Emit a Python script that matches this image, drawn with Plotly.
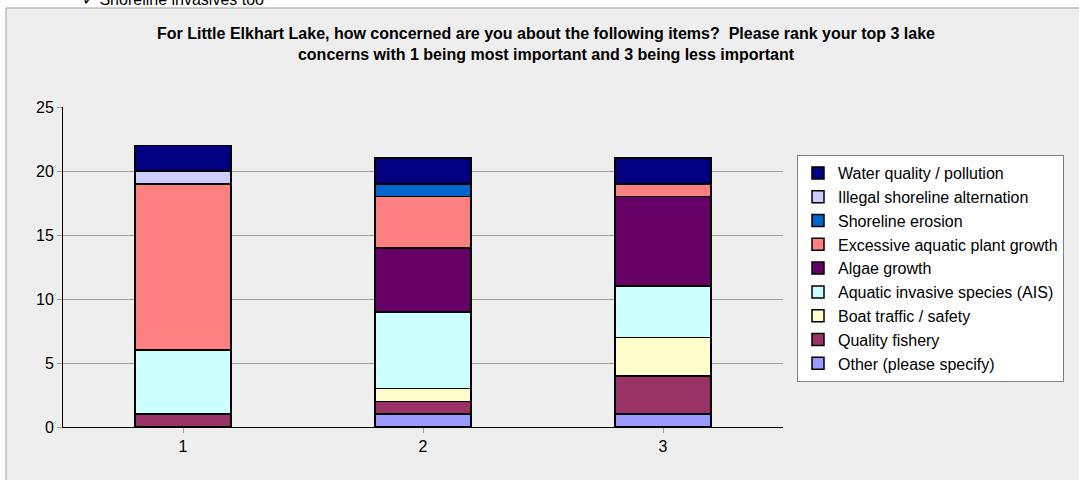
import plotly.graph_objects as go

categories = ["1", "2", "3"]
series_names = [
    "Other (please specify)",
    "Quality fishery",
    "Boat traffic / safety",
    "Aquatic invasive species (AIS)",
    "Algae growth",
    "Excessive aquatic plant growth",
    "Shoreline erosion",
    "Illegal shoreline alternation",
    "Water quality / pollution",
]
other = [0, 1, 1]
fishery = [1, 1, 3]
boat = [0, 1, 3]
ais = [5, 6, 4]
algae = [0, 5, 7]
excessive = [13, 4, 1]
erosion = [0, 1, 0]
illegal = [1, 0, 0]
water = [2, 2, 2]
series_values = [other, fishery, boat, ais, algae, excessive, erosion, illegal, water]
colors = ["#9999FF", "#993366", "#FFFFCC", "#CCFFFF", "#660066",
          "#FF8080", "#0066CC", "#CCCCFF", "#000080"]
y_ticks = [0, 5, 10, 15, 20, 25]

W, H = 1079, 480
L, R, T, B = 63, 296, 107, 53
pw, ph = W - L - R, H - T - B

fig = go.Figure()
for name, vals, col in zip(series_names, series_values, colors):
    fig.add_trace(go.Bar(
        x=categories, y=[v if v else None for v in vals], name=name,
        marker=dict(color=col, line=dict(color="black", width=1.5)),
        width=0.4,
    ))

def px(xp):
    return (xp - L) / pw

def py(yp):
    return (H - B - yp) / ph

fig.update_layout(
    width=W, height=H,
    barmode="stack",
    paper_bgcolor="white",
    plot_bgcolor="#EEEEEE",
    margin=dict(l=L, r=R, t=T, b=B),
    font=dict(family="Liberation Sans, Arial, sans-serif", size=16, color="black"),
    showlegend=True,
    legend=dict(
        traceorder="reversed",
        x=px(797), y=py(155), xanchor="left", yanchor="top",
        bgcolor="white", bordercolor="#808080", borderwidth=1,
        font=dict(size=16), itemwidth=30, tracegroupgap=0,
    ),
    xaxis=dict(
        showline=True, linecolor="black", linewidth=1,
        ticks="outside", tickcolor="#A0A0A0", ticklen=5,
        showgrid=False, tickfont=dict(size=16),
    ),
    yaxis=dict(
        range=[0, 25], tickvals=y_ticks,
        showline=True, linecolor="black", linewidth=1,
        ticks="outside", tickcolor="#A0A0A0", ticklen=5,
        showgrid=True, gridcolor="#A0A0A0", gridwidth=1,
        tickfont=dict(size=16), zeroline=False,
    ),
    shapes=[
        dict(type="rect", xref="paper", yref="paper",
             x0=px(6), x1=px(1082), y0=py(483), y1=py(8),
             fillcolor="#EEEEEE", line=dict(color="#A0A0A0", width=1),
             layer="below"),
    ],
    annotations=[
        dict(text="<b>For Little Elkhart Lake, how concerned are you about the following items?  Please rank your top 3 lake<br>concerns with 1 being most important and 3 being less important</b>",
             xref="paper", yref="paper", x=px(546), y=py(23),
             xanchor="center", yanchor="top", showarrow=False,
             font=dict(size=16, family="Liberation Sans, Arial, sans-serif"),
             align="center"),
        dict(text="✓ Shoreline invasives too",
             xref="paper", yref="paper", x=px(80), y=py(10),
             xanchor="left", yanchor="bottom", showarrow=False,
             font=dict(size=16)),
    ],
)

fig.write_html("out.html", config={"displayModeBar": False},
               post_script="document.body.style.margin='0';")
